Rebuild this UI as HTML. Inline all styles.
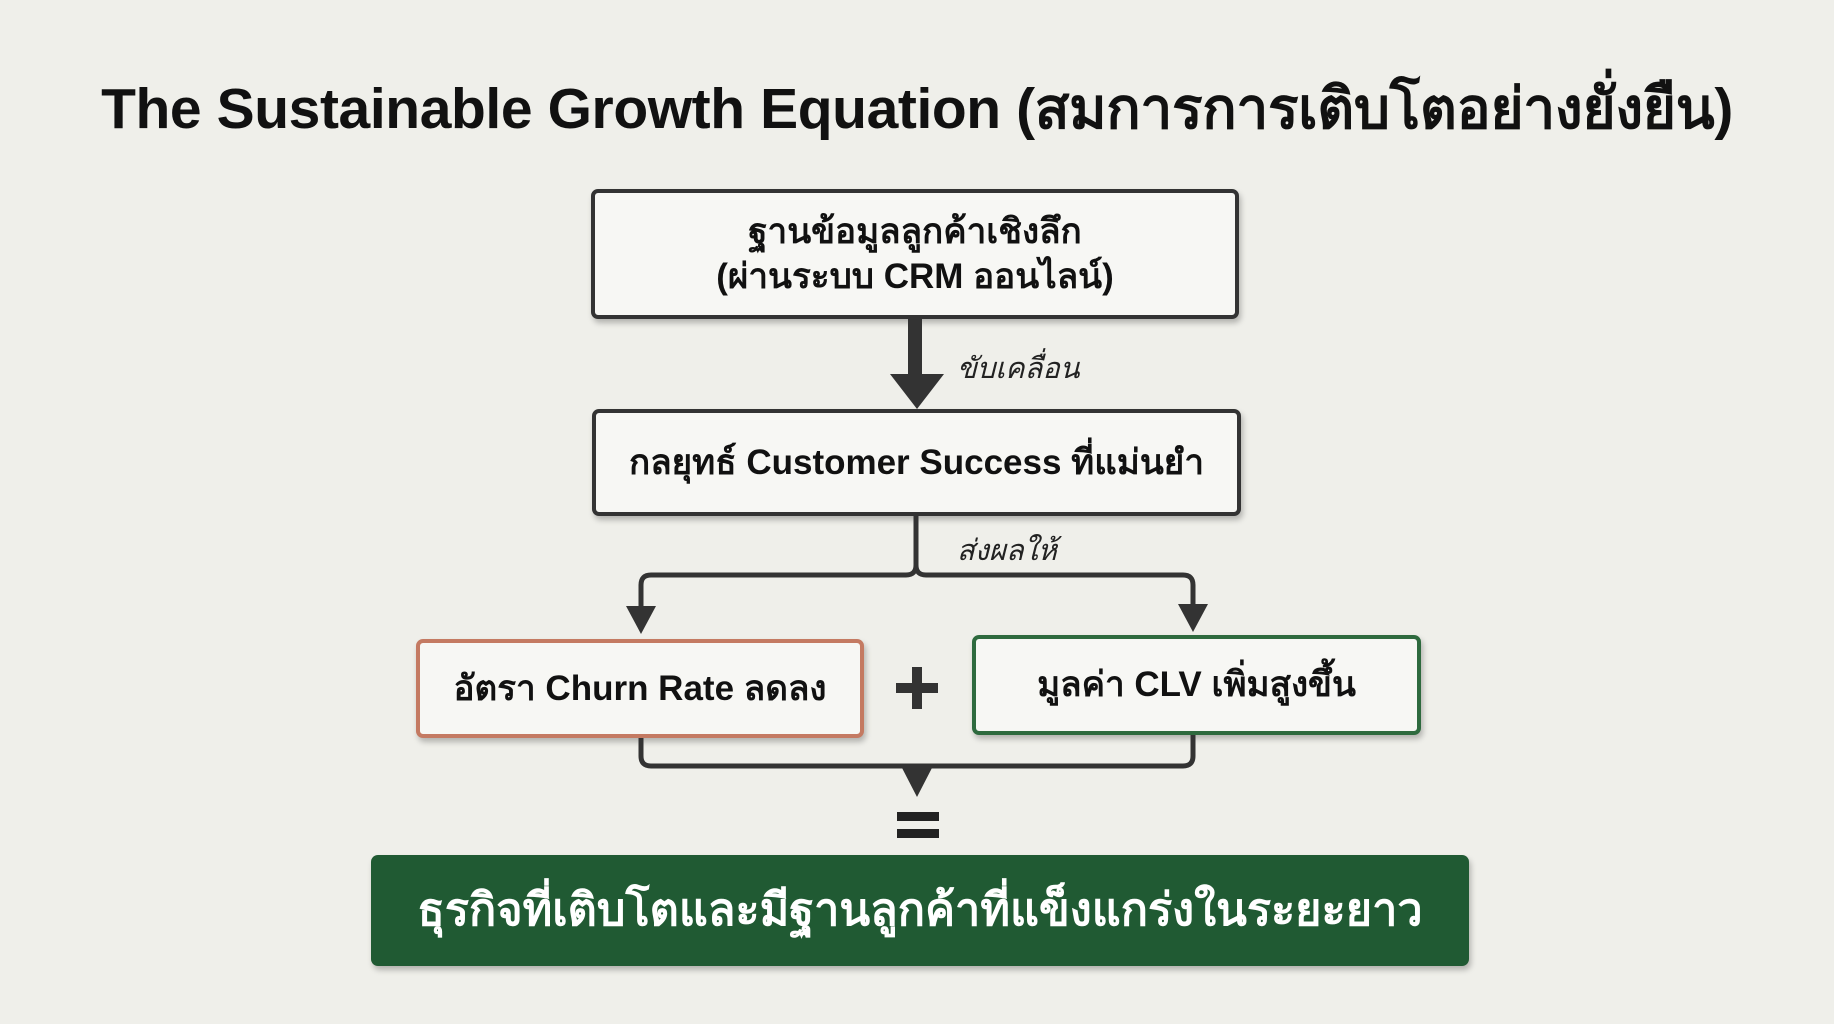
<!DOCTYPE html>
<html><head><meta charset="utf-8">
<style>
html,body{margin:0;padding:0}
body{width:1834px;height:1024px;background:#efefea;position:relative;overflow:hidden;font-family:"Liberation Sans","DejaVu Sans","Noto Sans CJK SC",sans-serif;color:#111}
.t{position:absolute;left:0;width:1834px;top:64px;text-align:center;font-size:57px;font-weight:bold;letter-spacing:-0.4px}
.box{position:absolute;box-sizing:border-box;background:#f7f7f4;border:4px solid #333;border-radius:7px;display:flex;align-items:center;justify-content:center;text-align:center;font-weight:bold;font-size:35px;box-shadow:2px 4px 6px rgba(0,0,0,.25);line-height:1.3}
.lbl{position:absolute;font-style:italic;font-size:29px;color:#222}
</style></head><body>
<div class="t">The Sustainable Growth Equation (สมการการเติบโตอย่างยั่งยืน)</div>

<div class="box" style="left:591px;top:189px;width:648px;height:130px">ฐานข้อมูลลูกค้าเชิงลึก<br>(ผ่านระบบ CRM ออนไลน์)</div>
<div class="box" style="left:592px;top:409px;width:649px;height:107px">กลยุทธ์ Customer Success ที่แม่นยำ</div>
<div class="box" style="left:416px;top:639px;width:448px;height:99px;border-color:#c47a62">อัตรา Churn Rate ลดลง</div>
<div class="box" style="left:972px;top:635px;width:449px;height:100px;border-color:#2e6a3e">มูลค่า CLV เพิ่มสูงขึ้น</div>
<div class="box" style="left:371px;top:855px;width:1098px;height:111px;background:#205a33;border:none;color:#fff;font-size:45px">ธุรกิจที่เติบโตและมีฐานลูกค้าที่แข็งแกร่งในระยะยาว</div>

<div class="lbl" style="left:957px;top:345px">ขับเคลื่อน</div>
<div class="lbl" style="left:957px;top:527px">ส่งผลให้</div>

<svg width="1834" height="1024" style="position:absolute;left:0;top:0" fill="none">
<rect x="908" y="319" width="14" height="60" fill="#333"/>
<polygon points="890,374 944,374 917,409" fill="#333"/>
<path d="M916 516 V565 Q916 575 906 575 H651 Q641 575 641 585 V615 M916 565 Q916 575 926 575 H1183 Q1193 575 1193 585 V615" stroke="#333" stroke-width="5"/>
<polygon points="626,606 656,606 641,634" fill="#333"/>
<polygon points="1178,604 1208,604 1193,632" fill="#333"/>
<path d="M641 738 V756 Q641 766 651 766 H1183 Q1193 766 1193 756 V735" stroke="#333" stroke-width="5"/>
<polygon points="900,764 934,764 917,797" fill="#333"/>
<rect x="896" y="683" width="42" height="10" fill="#333"/>
<rect x="912" y="667" width="10" height="42" fill="#333"/>
<rect x="897" y="812" width="42" height="9" fill="#222"/>
<rect x="897" y="829" width="42" height="9" fill="#222"/>
</svg>
</body></html>
